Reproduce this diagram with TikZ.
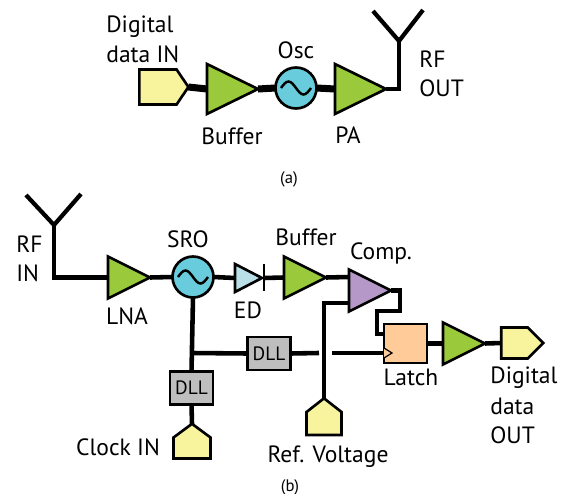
\documentclass[tikz,border=0pt]{standalone}
\usepackage{fontspec}
\setmainfont{PT Sans}
\usetikzlibrary{shapes.geometric,shapes.symbols}
\definecolor{ampgreen}{RGB}{154,202,60}
\definecolor{oscblue}{RGB}{105,204,220}
\definecolor{portyellow}{RGB}{248,244,158}
\definecolor{diodeblue}{RGB}{184,224,230}
\definecolor{comppurple}{RGB}{182,152,200}
\definecolor{latchorange}{RGB}{255,204,153}
\definecolor{dllgrey}{RGB}{190,190,190}
\tikzset{
	outline/.style={draw=black, line width=1.5pt, inner sep=0pt, outer sep=0pt},
	amp/.style={outline, isosceles triangle, isosceles triangle stretches, shape border rotate=0, anchor=lower side, fill=#1},
	bigamp/.style={amp=ampgreen, minimum width=1cm, minimum height=1.02cm},
	smallamp/.style={amp=#1, minimum width=0.84cm, minimum height=0.84cm},
	osc/.style={outline, circle, fill=oscblue, minimum size=0.82cm},
	sinewave/.style={line width=1.4pt},
	port/.style={outline, signal, fill=portyellow},
	dll/.style={outline, fill=dllgrey, minimum width=0.86cm, minimum height=0.66cm, font=\fontsize{11}{12}\selectfont},
	lbl/.style={inner sep=0pt, yshift=-0.04cm, font=\fontsize{13.4}{15}\selectfont, text height=1.6ex, text depth=0.3ex},
	caption/.style={inner sep=0pt, font=\fontsize{9.5}{11}\selectfont},
	fatwire/.style={line width=4pt},
	wire/.style={line width=2.6pt},
	aerial/.style={line width=2.4pt},
}
\begin{document}
\begin{tikzpicture}[x=0.02cm, y=-0.02cm]
	\useasboundingbox (0,0) rectangle (562,494);

	% (a) transmitter
	\node[port, signal to=east, signal pointer angle=112, minimum width=0.98cm, minimum height=0.7cm] (datain) at (158,87) {};
	\node[bigamp] (buffera) at (207,89) {};
	\node[osc] (osca) at (296,88) {};
	\node[bigamp] (pa) at (335,89) {};
	\coordinate (antafoot) at (399,41);
	\coordinate (antaleft) at (373,11);
	\coordinate (antaright) at (423,10);
	\draw[sinewave] (osca.center) ++(-15,0) sin ++(7.5,-6.5) cos ++(7.5,6.5) sin ++(7.5,6.5) cos ++(7.5,-6.5);

	\draw[fatwire] (datain.east) -- (buffera.lower side);
	\draw[fatwire] (buffera.apex) -- (osca.west);
	\draw[fatwire] (osca.east) -- (pa.lower side);
	\draw[wire, line join=miter] (pa.apex) -| (antafoot);
	\draw[aerial] (antaleft) -- (antafoot) -- (antaright);

	\node[lbl, anchor=west] (digitala) at (106,25) {Digital};
	\node[lbl, anchor=west] (dataa) at (106,55) {data IN};
	\node[lbl] (oscl) at (296,51) {Osc};
	\node[lbl] (bufferl) at (232,137) {Buffer};
	\node[lbl] (pal) at (348,136) {PA};
	\node[lbl, anchor=west] (rfa) at (419,60) {RF};
	\node[lbl, anchor=west] (outa) at (419,89) {OUT};
	\node[caption] (capa) at (289,179) {(a)};

	% (b) receiver
	\node[smallamp=ampgreen] (lna) at (108,277.5) {};
	\node[osc] (sro) at (193,277) {};
	\node[smallamp=diodeblue, minimum width=0.56cm, minimum height=0.54cm] (ed) at (235,278) {};
	\coordinate (edbartop) at (264,264);
	\coordinate (edbarbot) at (264,291);
	\node[smallamp=ampgreen] (bufferb) at (284,277.5) {};
	\node[smallamp=comppurple] (comp) at (349,290.5) {};
	\node[outline, fill=latchorange, minimum width=0.86cm, minimum height=0.78cm] (latch) at (405.5,343.5) {};
	\node[smallamp=ampgreen] (ampout) at (443,343.5) {};
	\node[port, signal to=east, signal pointer angle=90, minimum width=0.84cm, minimum height=0.62cm] (dataout) at (514.5,343) {};
	\node[dll] (dllh) at (269,353.5) {DLL};
	\node[dll] (dllv) at (191.5,388) {DLL};
	\node[port, signal to=north, signal pointer angle=107, minimum width=0.74cm, minimum height=0.42cm] (clockin) at (192,448) {};
	\node[port, signal to=north, signal pointer angle=104, minimum width=0.7cm, minimum height=0.46cm] (refin) at (324,423.5) {};

	\coordinate (antbfoot) at (54,225);
	\coordinate (antbleft) at (26,195);
	\coordinate (antbright) at (81,194);
	\coordinate (compplus) at (349,277);
	\coordinate (compminus) at (349,303);
	\coordinate (latchd) at (384,334);
	\coordinate (latchclk) at (384,353);
	\coordinate (tap) at (192,353);
	\coordinate (gapl) at (319,353);
	\coordinate (gapr) at (332,353);
	\draw[sinewave] (sro.center) ++(-15,0) sin ++(7.5,-6.5) cos ++(7.5,6.5) sin ++(7.5,6.5) cos ++(7.5,-6.5);

	\draw[aerial] (antbleft) -- (antbfoot) -- (antbright);
	\draw[wire] (antbfoot) |- (lna.lower side);
	\draw[wire] (lna.apex) -- (sro.west);
	\draw[wire] (sro.east) -- (ed.lower side);
	\draw[line width=1.5pt] (edbartop) -- (edbarbot);
	\draw[wire] (edbartop |- ed.apex) -- (bufferb.lower side);
	\draw[wire] (bufferb.apex) -- (compplus);
	\draw[wire] (refin.north) |- (compminus);
	\draw[wire] (comp.apex) -| (400,311) -| (377,334) -- (latchd);
	\draw[wire] (latch.east) -- (ampout.lower side);
	\draw[wire] (ampout.apex) -- (dataout.west);
	\draw[wire] (sro.south) -- (dllv.north);
	\draw[wire] (dllv.south) -- (clockin.north);
	\draw[wire] (tap) -- (dllh.west);
	\draw[wire] (dllh.east) -- (gapl);
	\draw[wire] (gapr) -- (latchclk);
	\draw[line width=0.7pt, fill=latchorange] (latchclk) ++(0,-5) -- ++(8,5) -- ++(-8,5);

	\node[lbl, anchor=west] (rfb) at (16,245) {RF};
	\node[lbl, anchor=west] (inb) at (16,274) {IN};
	\node[lbl] (lnal) at (127,317) {LNA};
	\node[lbl] (srol) at (188,240) {SRO};
	\node[lbl] (edl) at (248,311) {ED};
	\node[lbl] (bufferbl) at (306,238) {Buffer};
	\node[lbl] (compl) at (381,252) {Comp.};
	\node[lbl] (latchl) at (411,378) {Latch};
	\node[lbl, anchor=west] (digitalb) at (490,376) {Digital};
	\node[lbl, anchor=west] (datab) at (490,407) {data};
	\node[lbl, anchor=west] (outb) at (490,436) {OUT};
	\node[lbl] (clockl) at (118,448) {Clock IN};
	\node[lbl] (refl) at (328,455) {Ref. Voltage};
	\node[caption] (capb) at (290,487) {(b)};
\end{tikzpicture}
\end{document}
